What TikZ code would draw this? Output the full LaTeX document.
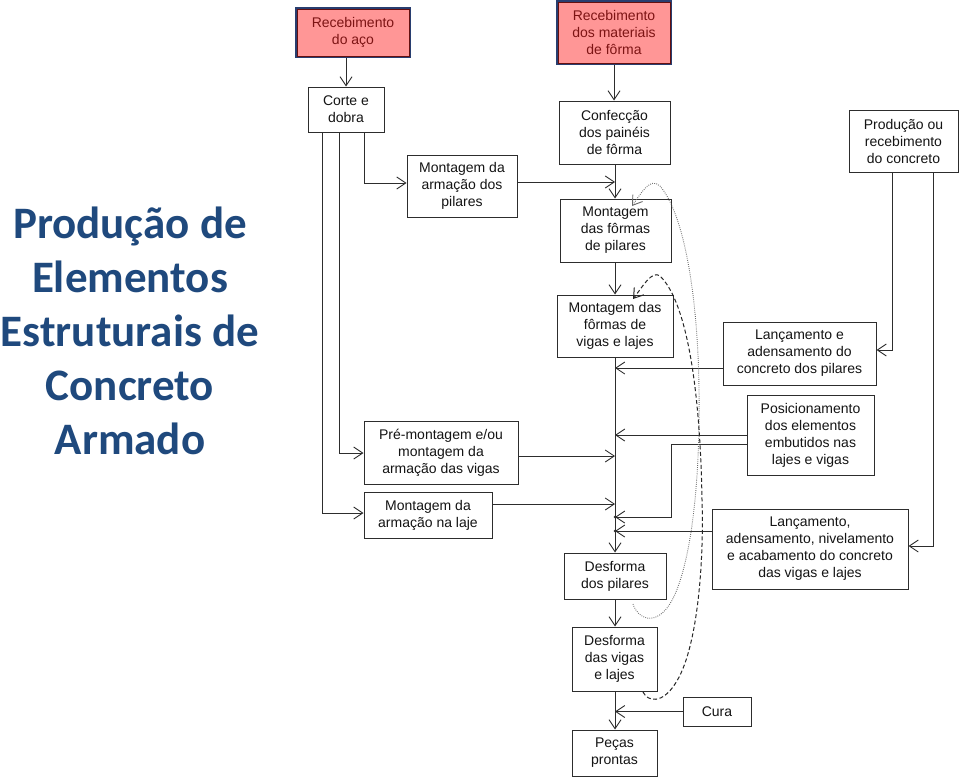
\documentclass[tikz,border=0pt]{standalone}
\usepackage{fontspec}
\setmainfont{Liberation Sans}
\newfontfamily\titlefont{Carlito}
\usetikzlibrary{arrows.meta,calc}
\definecolor{lnc}{RGB}{45,45,45}
\definecolor{txt}{RGB}{20,20,20}
\definecolor{pinkf}{RGB}{255,150,150}
\definecolor{navyb}{RGB}{40,62,112}
\definecolor{redt}{RGB}{125,20,20}
\definecolor{titlec}{RGB}{31,73,125}
\definecolor{dotc}{RGB}{105,105,105}
\begin{document}
\begin{tikzpicture}[x=1pt,y=-1pt,
  box/.style={draw=lnc, line width=1pt, fill=white, align=center, inner sep=0pt,
              font=\fontsize{14}{17}\selectfont, text=txt},
  pinkbox/.style={box, fill=pinkf, draw=navyb, line width=2.6pt, text=redt},
  arr/.style={draw=lnc, line width=0.9pt, -{Straight Barb[length=9pt,width=12pt]}},
  titletext/.style={font=\titlefont\bfseries\fontsize{45}{55}\selectfont, text=titlec, anchor=base, inner sep=0pt},
  dottedcurve/.style={draw=dotc, line width=0.9pt, dash pattern=on 0.8pt off 1.3pt,
              -{Straight Barb[length=9pt,width=12pt]}},
  dashedcurve/.style={draw=black!85, line width=1pt, dash pattern=on 4pt off 2.5pt,
              -{Straight Barb[length=9pt,width=12pt]}}
]
\useasboundingbox (0,0) rectangle (960,779);
\fill[white] (0,0) rectangle (960,779);

% title
\node[titletext] (t1) at (130,238) {Produção de};
\node[titletext] (t2) at (130,292) {Elementos};
\node[titletext] (t3) at (130,346) {Estruturais de};
\node[titletext] (t4) at (130,400) {Concreto};
\node[titletext] (t5) at (130,454) {Armado};

% boxes
\node[pinkbox, minimum width=114, minimum height=49] (ra) at (353,32.5) {Recebimento\\do aço};
\node[pinkbox, minimum width=114, minimum height=63] (rm) at (614,32.5) {Recebimento\\dos materiais\\de fôrma};
\node[box, minimum width=76, minimum height=45] (cd) at (346,109.5) {Corte e\\dobra};
\node[box, minimum width=111, minimum height=63] (cf) at (614.5,132.5) {Confecção\\dos painéis\\de fôrma};
\node[box, minimum width=110, minimum height=62] (map) at (462,186) {Montagem da\\armação dos\\pilares};
\node[box, minimum width=111, minimum height=63] (mfp) at (615.5,230.5) {Montagem\\das fôrmas\\de pilares};
\node[box, minimum width=116, minimum height=62] (mfv) at (615,326) {Montagem das\\fôrmas de\\vigas e lajes};
\node[box, minimum width=109, minimum height=62] (pc) at (903.5,141) {Produção ou\\recebimento\\do concreto};
\node[box, minimum width=153, minimum height=63] (lp) at (799.5,353.5) {Lançamento e\\adensamento do\\concreto dos pilares};
\node[box, minimum width=127, minimum height=80] (pos) at (810.5,435) {Posicionamento\\dos elementos\\embutidos nas\\lajes e vigas};
\node[box, minimum width=196, minimum height=80] (lv) at (810,549) {Lançamento,\\adensamento, nivelamento\\e acabamento do concreto\\das vigas e lajes};
\node[box, minimum width=154, minimum height=63] (pm) at (441,452.5) {Pré-montagem e/ou\\montagem da\\armação das vigas};
\node[box, minimum width=128, minimum height=46] (mal) at (428,515) {Montagem da\\armação na laje};
\node[box, minimum width=102, minimum height=46] (dp) at (615,576) {Desforma\\dos pilares};
\node[box, minimum width=85, minimum height=64] (dv) at (614.5,659) {Desforma\\das vigas\\e lajes};
\node[box, minimum width=68, minimum height=29] (cura) at (717,711.5) {Cura};
\node[box, minimum width=85, minimum height=46] (pp) at (614.5,753) {Peças\\prontas};

% inner thin outline of the pink boxes
\draw[redt!80!black, line width=0.6pt] ($(ra.south west)+(2.2,-2.2)$) rectangle ($(ra.north east)+(-2.2,2.2)$);
\draw[redt!80!black, line width=0.6pt] ($(rm.south west)+(2.2,-2.2)$) rectangle ($(rm.north east)+(-2.2,2.2)$);

% trunk and junctions
\coordinate (T) at (615,0);
\coordinate (j1) at (615,182);
\coordinate (j2) at (615,368);
\coordinate (j3) at (615,435);
\coordinate (j4) at (615,456);
\coordinate (j5) at (615,504);
\coordinate (j6) at (615,517);
\coordinate (k6) at (671,444);
\coordinate (j7) at (615,531);
\coordinate (j8) at (615,711.5);
\coordinate (c1) at (364,183);
\coordinate (c2) at (339,453);
\coordinate (c3) at (322,513);
\coordinate (p1) at (892,350);
\coordinate (p2) at (933,546);

\draw[arr] (ra.south -| cd.north) -- (cd.north);
\draw[arr] (rm.south) -- (rm.south |- cf.north);
\draw[arr] (cf.south -| T) -- (mfp.north -| T);
\draw[arr] (map.east |- j1) -- (j1);
\draw[arr] (mfp.south -| T) -- (mfv.north -| T);
\draw[arr] (mfv.south -| T) -- (dp.north -| T);
\draw[arr] (lp.west |- j2) -- (j2);
\draw[arr] (pos.west |- j3) -- (j3);
\draw[arr] (pm.east |- j4) -- (j4);
\draw[arr] (mal.east |- j5) -- (j5);
\draw[arr] (pos.west |- k6) -- (k6) |- (j6);
\draw[arr] (lv.west |- j7) -- (j7);
\fill[lnc] (j6) circle (1.4);
\fill[lnc] (j7) circle (1.4);

\draw[arr] (cd.south -| c1) |- (map.west |- c1);
\draw[arr] (cd.south -| c2) |- (pm.west |- c2);
\draw[arr] (cd.south -| c3) |- (mal.west |- c3);

\draw[arr] (pc.south -| p1) |- (lp.east |- p1);
\draw[arr] (pc.south -| p2) |- (lv.east |- p2);

\draw[arr] (dp.south -| T) -- (dv.north -| T);
\draw[arr] (dv.south -| T) -- (pp.north -| T);
\draw[arr] (cura.west) -- (j8);

% feedback curves
\coordinate (d1s) at (633,604);
\coordinate (d1e) at (632,206);
\coordinate (d2s) at (643,692);
\coordinate (d2e) at (633,299);
\draw[dottedcurve] (d1s) .. controls (638,620) and (660,630) .. (676,592)
  .. controls (695,545) and (700,460) .. (699,390)
  .. controls (698,300) and (685,215) .. (660,186)
  .. controls (650,177) and (642,192) .. (d1e);
\draw[dashedcurve] (d2s) .. controls (648,702) and (662,704) .. (675,684)
  .. controls (698,650) and (704,560) .. (702,500)
  .. controls (700,380) and (685,300) .. (660,276)
  .. controls (652,270) and (643,286) .. (d2e);
\end{tikzpicture}
\end{document}
